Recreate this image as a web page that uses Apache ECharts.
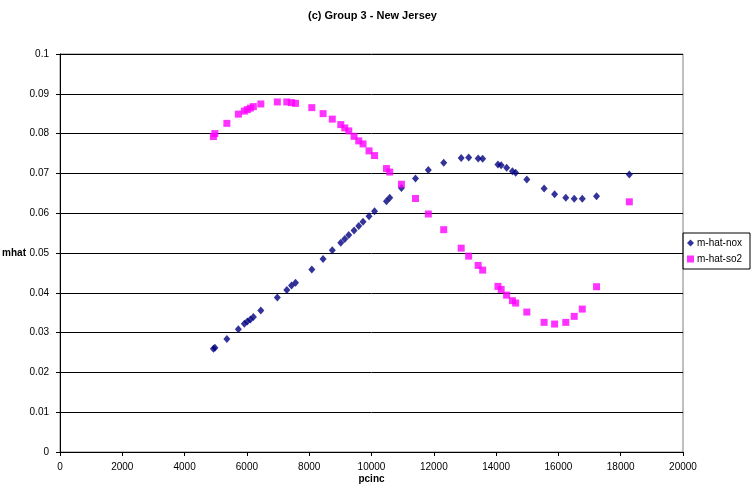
<!DOCTYPE html>
<html>
<head>
<meta charset="utf-8">
<script src="https://cdn.jsdelivr.net/npm/echarts@6/dist/echarts.min.js"></script>
<style>
  html, body { margin: 0; padding: 0; background: #fff; }
  #chart { width: 752px; height: 493px; }
</style>
</head>
<body>
<div id="chart"></div>
<script>
// Per-capita income (shared by both series)
const pcinc = [
  4924, 4972, 5357, 5726, 5918, 6014, 6111, 6207, 6447, 6977,
  7281, 7432, 7561, 8083, 8446, 8741, 9014, 9142, 9270, 9440,
  9591, 9729, 9921, 10098, 10480, 10585, 10961, 11413, 11824, 12318,
  12879, 13119, 13424, 13569, 14059, 14162, 14338, 14524, 14627, 14986,
  15541, 15878, 16237, 16507, 16767, 17225, 18277
];

const mhatNox = [
  0.02592, 0.02617, 0.02838, 0.03082, 0.03220, 0.03282, 0.03332, 0.03395, 0.03558, 0.03885,
  0.04068, 0.04186, 0.04253, 0.04587, 0.04851, 0.05071, 0.05257, 0.05353, 0.05453, 0.05566,
  0.05679, 0.05784, 0.05925, 0.06050, 0.06301, 0.06386, 0.06632, 0.06871, 0.07084, 0.07267,
  0.07390, 0.07398, 0.07372, 0.07365, 0.07222, 0.07204, 0.07139, 0.07054, 0.07014, 0.06846,
  0.06620, 0.06477, 0.06386, 0.06361, 0.06361, 0.06427, 0.06971
];

const mhatSo2 = [
  0.07925, 0.08000, 0.08258, 0.08489, 0.08565, 0.08602, 0.08640, 0.08678, 0.08745, 0.08795,
  0.08795, 0.08778, 0.08760, 0.08652, 0.08502, 0.08364, 0.08226, 0.08143, 0.08068, 0.07932,
  0.07817, 0.07741, 0.07566, 0.07448, 0.07122, 0.07034, 0.06728, 0.06369, 0.05980, 0.05586,
  0.05122, 0.04921, 0.04688, 0.04570, 0.04161, 0.04085, 0.03942, 0.03802, 0.03742, 0.03516,
  0.03257, 0.03215, 0.03257, 0.03408, 0.03591, 0.04153, 0.06286
];

const seriesNames = ['m-hat-nox', 'm-hat-so2'];

const pair = (xs, ys) => xs.map((x, i) => [x, ys[i]]);

const FONT = '"Liberation Sans", Arial, sans-serif';

const chart = echarts.init(document.getElementById('chart'), null, { renderer: 'canvas' });

chart.setOption({
  backgroundColor: '#ffffff',
  animation: false,
  textStyle: { fontFamily: FONT, color: '#000' },
  title: {
    text: '(c) Group 3 - New Jersey',
    left: 303,
    top: 5,
    textStyle: { fontFamily: FONT, fontSize: 11, fontWeight: 'bold', color: '#000' }
  },
  legend: {
    orient: 'vertical',
    left: 683,
    top: 233,
    data: [
      { name: seriesNames[0], icon: 'diamond' },
      { name: seriesNames[1], icon: 'rect' }
    ],
    itemWidth: 7,
    itemHeight: 7,
    itemGap: 6,
    padding: [5, 8, 5, 4],
    borderColor: '#000',
    borderWidth: 1,
    textStyle: { fontFamily: FONT, fontSize: 10, color: '#000', padding: [0, 0, 0, -2] }
  },
  grid: {
    left: 60,
    right: 69,
    top: 54,
    bottom: 41,
    show: true,
    borderColor: '#808080',
    borderWidth: 1,
    backgroundColor: '#ffffff',
    containLabel: false,
    outerBoundsMode: 'none'
  },
  xAxis: {
    type: 'value',
    min: 0,
    max: 20000,
    interval: 2000,
    name: 'pcinc',
    nameLocation: 'middle',
    nameGap: 22,
    nameMoveOverlap: false,
    nameTextStyle: { fontFamily: FONT, fontSize: 10, fontWeight: 'bold', color: '#000' },
    axisLine: { show: true, lineStyle: { color: '#000', width: 1 } },
    axisTick: { show: true, inside: false, length: 4, lineStyle: { color: '#000' } },
    axisLabel: {
      fontFamily: FONT, fontSize: 10, color: '#000', margin: 10,
      formatter: v => String(v)
    },
    splitLine: { show: false }
  },
  yAxis: {
    type: 'value',
    min: 0,
    max: 0.1,
    interval: 0.01,
    name: 'mhat',
    nameLocation: 'middle',
    nameRotate: 0,
    nameGap: 34,
    nameMoveOverlap: false,
    nameTextStyle: { fontFamily: FONT, fontSize: 10, fontWeight: 'bold', color: '#000' },
    axisLine: { show: true, lineStyle: { color: '#000', width: 1 } },
    axisTick: { show: true, inside: false, length: 4, lineStyle: { color: '#000' } },
    axisLabel: {
      fontFamily: FONT, fontSize: 10, color: '#000', margin: 11,
      formatter: v => String(+v.toFixed(2))
    },
    splitLine: { show: true, lineStyle: { color: '#000', width: 1 } }
  },
  series: [
    {
      name: seriesNames[0],
      type: 'scatter',
      symbol: 'diamond',
      symbolSize: [7, 8],
      itemStyle: { color: '#000080' },
      data: pair(pcinc, mhatNox)
    },
    {
      name: seriesNames[1],
      type: 'scatter',
      symbol: 'rect',
      symbolSize: 7,
      itemStyle: { color: '#FF00FF' },
      data: pair(pcinc, mhatSo2)
    }
  ]
});
</script>
</body>
</html>
